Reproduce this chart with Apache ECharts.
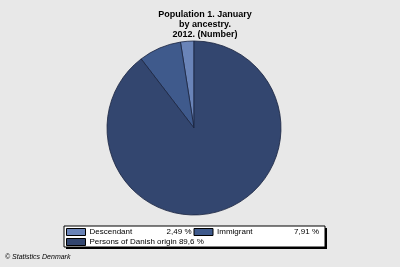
<!DOCTYPE html>
<html><head><meta charset="utf-8">
<script src="https://cdn.jsdelivr.net/npm/echarts@6/dist/echarts.min.js"></script>
<style>html,body{margin:0;padding:0;background:#e8e8e8;}#c{width:400px;height:267px;}</style>
</head><body><div id="c"></div>
<script>
const categories = ['Descendant', 'Immigrant', 'Persons of Danish origin'];
const values = [2.49, 7.91, 89.6];
const pctLabels = ['2,49 %', '7,91 %', '89,6 %'];
const colors = ['#6a84b8', '#3f5a8c', '#33466f'];

const chart = echarts.init(document.getElementById('c'), null, {renderer: 'canvas'});
chart.setOption({
  backgroundColor: '#e8e8e8',
  animation: false,
  title: {
    text: 'Population 1. January\nby ancestry.\n2012. (Number)',
    left: 200, textAlign: 'center', top: 5,
    textStyle: {fontFamily: 'Arial, Liberation Sans', fontSize: 9, fontWeight: 'bold', color: '#000', lineHeight: 10}
  },
  graphic: [
    {type: 'rect', shape: {x: 66, y: 228, width: 261, height: 21}, style: {fill: '#000'}, z: 0},
    {type: 'rect', shape: {x: 64, y: 226, width: 261, height: 21}, style: {fill: '#fff', stroke: '#000', lineWidth: 1}, z: 1},
    {type: 'text', left: 5, top: 254, style: {text: '© Statistics Denmark', font: 'italic 7px Arial, Liberation Sans', fill: '#000'}}
  ],
  legend: {
    left: 66, top: 228, width: 262, padding: 0,
    itemWidth: 19, itemHeight: 7, itemGap: 2,
    icon: 'rect',
    itemStyle: {borderColor: '#000', borderWidth: 1},
    data: categories,
    formatter: function (name) {
      const i = categories.indexOf(name);
      if (i === 2) return name + ' ' + pctLabels[i];
      return '{n|' + name + '}{p|' + pctLabels[i] + '}';
    },
    textStyle: {
      fontFamily: 'Arial, Liberation Sans', fontSize: 8, color: '#000', padding: [0, 0, 0, -1],
      rich: {
        n: {fontFamily: 'Arial, Liberation Sans', fontSize: 8, color: '#000', width: 69},
        p: {fontFamily: 'Arial, Liberation Sans', fontSize: 8, color: '#000', width: 33, align: 'right'}
      }
    },
    z: 5
  },
  series: [{
    type: 'pie',
    center: [194, 128],
    radius: 87,
    startAngle: 90,
    clockwise: false,
    label: {show: false},
    labelLine: {show: false},
    emphasis: {disabled: true},
    itemStyle: {borderColor: '#1a2440', borderWidth: 0.8},
    data: categories.map((c, i) => ({name: c, value: values[i], itemStyle: {color: colors[i]}}))
  }]
});
</script></body></html>
